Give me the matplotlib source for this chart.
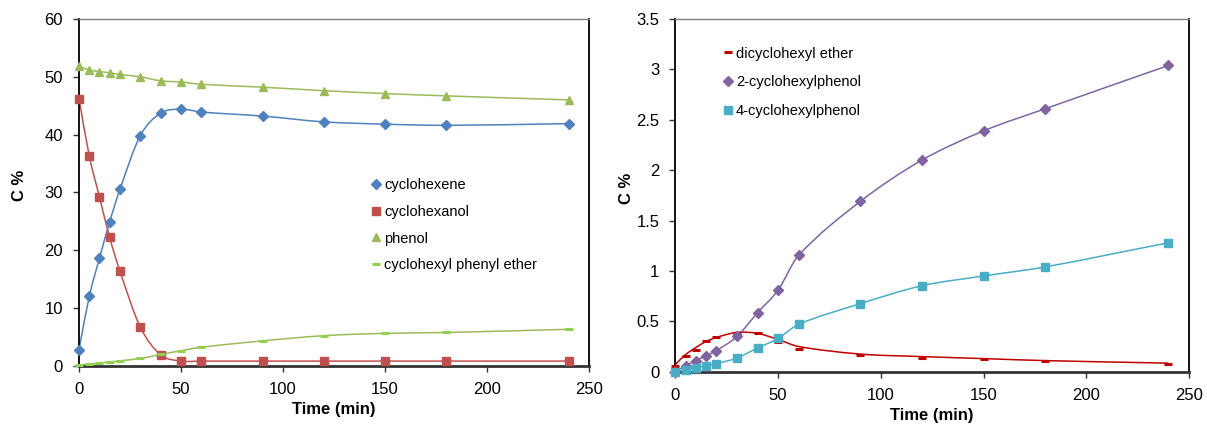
import matplotlib
matplotlib.use("Agg")
import matplotlib.pyplot as plt
from matplotlib.path import Path
from matplotlib.patches import PathPatch
from matplotlib.ticker import FormatStrFormatter, FuncFormatter

plt.rcParams['font.family'] = ['Liberation Sans', 'DejaVu Sans']

# Sampling times (min)
time = [0, 5, 10, 15, 20, 30, 40, 50, 60, 90, 120, 150, 180, 240]

# Left panel: main species (C %)
cyclohexene = [2.8, 12.0, 18.6, 24.9, 30.5, 39.8, 43.7, 44.4, 43.9, 43.2, 42.2, 41.8, 41.6, 41.9]
cyclohexanol = [46.2, 36.3, 29.2, 22.2, 16.4, 6.7, 1.9, 0.8, 0.8, 0.8, 0.8, 0.8, 0.8, 0.8]
phenol = [51.8, 51.2, 50.9, 50.7, 50.4, 50.0, 49.3, 49.1, 48.7, 48.2, 47.6, 47.1, 46.7, 46.0]
cyclohexyl_phenyl_ether = [0.1, 0.25, 0.45, 0.65, 0.85, 1.25, 1.95, 2.6, 3.2, 4.3, 5.2, 5.6, 5.75, 6.3]

# Right panel: minor products (C %)
dicyclohexyl_ether = [0.06, 0.155, 0.22, 0.30, 0.34, 0.38, 0.38, 0.29, 0.23, 0.17, 0.14, 0.125, 0.11, 0.075]
dicyclohexyl_ether_fit = [0.07, 0.17, 0.24, 0.30, 0.34, 0.39, 0.38, 0.32, 0.25, 0.175, 0.15, 0.13, 0.11, 0.085]
cyclohexylphenol_2 = [0.0, 0.06, 0.11, 0.16, 0.21, 0.35, 0.585, 0.81, 1.155, 1.69, 2.10, 2.39, 2.61, 3.04]
cyclohexylphenol_4 = [0.0, 0.02, 0.04, 0.057, 0.08, 0.136, 0.235, 0.33, 0.47, 0.675, 0.853, 0.95, 1.04, 1.28]

left_ticks = [0, 10, 20, 30, 40, 50, 60]
right_ticks = [0, 0.5, 1, 1.5, 2, 2.5, 3, 3.5]
x_ticks = [0, 50, 100, 150, 200, 250]


def slopes(x, y):
    """Chord slope through the neighbouring points at each interior point."""
    n = len(x)
    m = [(y[1] - y[0]) / (x[1] - x[0])]
    for i in range(1, n - 1):
        m.append((y[i + 1] - y[i - 1]) / (x[i + 1] - x[i - 1]))
    m.append((y[-1] - y[-2]) / (x[-1] - x[-2]))
    return m


def smooth_path(x, y):
    """Smoothed line through the points as cubic Bezier segments."""
    m = slopes(x, y)
    verts = [(x[0], y[0])]
    codes = [Path.MOVETO]
    for i in range(len(x) - 1):
        h = x[i + 1] - x[i]
        c1 = (x[i] + h / 3.0, y[i] + m[i] * h / 3.0)
        c2 = (x[i + 1] - h / 3.0, y[i + 1] - m[i + 1] * h / 3.0)
        verts += [c1, c2, (x[i + 1], y[i + 1])]
        codes += [Path.CURVE4] * 3
    return Path(verts, codes)


def add_curve(ax, x, y, color):
    patch = PathPatch(smooth_path(x, y), facecolor='none', edgecolor=color,
                      lw=1.1, zorder=2, transform=ax.transData)
    ax.add_patch(patch)


def style_axes(ax, ymax, yticks, yfmt, ylabel_x):
    ax.set_xlim(0, 250)
    ax.set_ylim(0, ymax)
    ax.set_xticks(x_ticks)
    ax.set_yticks(yticks)
    ax.yaxis.set_major_formatter(yfmt)
    ax.tick_params(axis='both', direction='out', length=4, width=1,
                   labelsize=12, color='#333333')
    ax.tick_params(axis='y', pad=7.5)
    ax.tick_params(axis='x', pad=8)
    ax.spines['left'].set_color('black')
    ax.spines['left'].set_linewidth(1.3)
    ax.spines['bottom'].set_color('#333333')
    ax.spines['bottom'].set_linewidth(2.0)
    ax.spines['top'].set_color('#7f7f7f')
    ax.spines['top'].set_linewidth(1.0)
    ax.spines['right'].set_color('black')
    ax.spines['right'].set_linewidth(1.3)
    ax.set_xlabel('Time (min)', fontsize=12, fontweight='bold', labelpad=3)
    ax.set_ylabel('C %', fontsize=12, fontweight='bold')
    ax.yaxis.set_label_coords(ylabel_x, 0.52)


fig = plt.figure(figsize=(12.07, 4.30), dpi=100)
ax1 = fig.add_axes([0.0655, 0.1495, 0.4225, 0.8063])
ax2 = fig.add_axes([0.5595, 0.1356, 0.4256, 0.8200])

# Left panel
c_blue, c_red, c_green, c_lime = '#4F81BD', '#C0504D', '#9BBB59', '#92D050'
add_curve(ax1, time, cyclohexene, c_blue)
add_curve(ax1, time, cyclohexanol, c_red)
add_curve(ax1, time, phenol, c_green)
add_curve(ax1, time, cyclohexyl_phenyl_ether, c_green)
ax1.plot(time, cyclohexene, 'D', color=c_blue, ms=4.6, ls='none', zorder=3,
         label='cyclohexene', clip_on=False)
ax1.plot(time, cyclohexanol, 's', color=c_red, ms=5.6, ls='none', zorder=3,
         label='cyclohexanol', clip_on=False)
ax1.plot(time, phenol, '^', color=c_green, ms=6, ls='none', zorder=3,
         label='phenol', clip_on=False)
ax1.plot(time, cyclohexyl_phenyl_ether, '_', color=c_lime, ms=6, mew=2.2,
         ls='none', zorder=3, label='cyclohexyl phenyl ether', clip_on=False)
style_axes(ax1, 60, left_ticks, FormatStrFormatter('%d'), -0.102)
ax1.legend(loc='upper left', bbox_to_anchor=(0.575, 0.54), frameon=False,
           fontsize=10.5, handlelength=0.55, handletextpad=0.25,
           labelspacing=0.86, borderpad=0, borderaxespad=0)

# Right panel
c_dred, c_purple, c_teal = '#C00000', '#8064A2', '#4BACC6'
add_curve(ax2, time, dicyclohexyl_ether_fit, c_dred)
add_curve(ax2, time, cyclohexylphenol_2, c_purple)
add_curve(ax2, time, cyclohexylphenol_4, c_teal)
ax2.plot(time, dicyclohexyl_ether, '_', color=c_dred, ms=6, mew=2.2, ls='none',
         zorder=3, label='dicyclohexyl ether', clip_on=False)
ax2.plot(time, cyclohexylphenol_2, 'D', color=c_purple, ms=4.6, ls='none',
         zorder=3, label='2-cyclohexylphenol', clip_on=False)
ax2.plot(time, cyclohexylphenol_4, 's', color=c_teal, ms=6, ls='none',
         zorder=3, label='4-cyclohexylphenol', clip_on=False)
style_axes(ax2, 3.5, right_ticks, FuncFormatter(lambda v, p: '%g' % v), -0.08)
ax2.legend(loc='upper left', bbox_to_anchor=(0.095, 0.922), frameon=False,
           fontsize=10.5, handlelength=0.55, handletextpad=0.25,
           labelspacing=1.02, borderpad=0, borderaxespad=0)

fig.savefig('out.png', dpi=100)
